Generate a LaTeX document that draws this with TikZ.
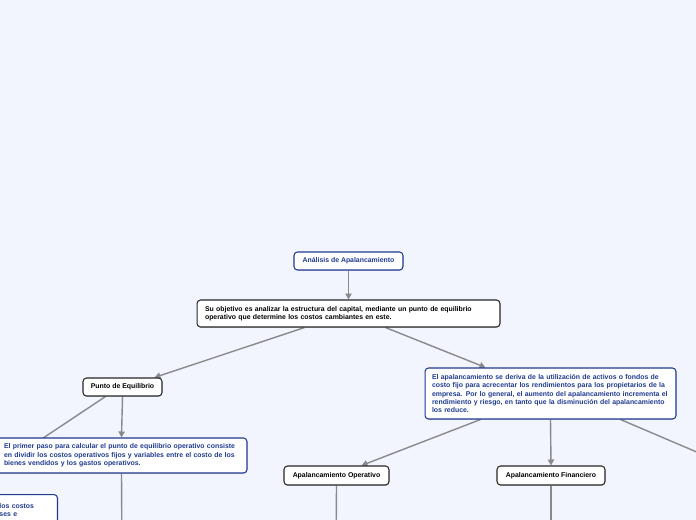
\documentclass[tikz,border=0pt]{standalone}
\usepackage{fontspec}
\setmainfont{Liberation Sans}
\usetikzlibrary{arrows.meta,backgrounds,calc,positioning,shadows}
\definecolor{paper}{HTML}{F2F5FE}
\definecolor{navy}{HTML}{1F3A8F}
\definecolor{wire}{HTML}{8A8A8A}
\tikzset{
  mapbox/.style={draw, fill=white, rounded corners=2pt, line width=0.6pt,
    inner sep=0pt, align=center,
    font=\fontsize{3.93}{4.8}\selectfont\bfseries,
    drop shadow={opacity=0.25, shadow xshift=0.2pt, shadow yshift=-0.5pt}},
  bluebox/.style={mapbox, draw=navy, text=navy},
  blackbox/.style={mapbox, draw=black!85, text=black},
  link/.style={draw=wire, line width=0.8pt, -{Triangle[length=3.4pt,width=3.6pt]}},
  plainlink/.style={draw=wire, line width=0.8pt},
}
\begin{document}
\begin{tikzpicture}[x=0.02cm, y=-0.02cm]
  \useasboundingbox (0,0) rectangle (696,520);
  \clip (0,0) rectangle (696,520);

  % map nodes
  \node[bluebox, minimum width=2.18cm, minimum height=0.36cm] (root) at (348.5,261) {Análisis de Apalancamiento};
  \node[blackbox, minimum width=6.06cm, minimum height=0.54cm, text width=5.74cm, align=left] (obj) at (348.5,313.5)
    {Su objetivo es analizar la estructura del capital, mediante un punto de equilibrio\\operativo que determine los costos cambiantes en este.};
  \node[blackbox, minimum width=1.58cm, minimum height=0.36cm] (punto) at (122.5,387) {Punto de Equilibrio};
  \node[bluebox, minimum width=5.02cm, minimum height=0.7cm, text width=4.7cm, align=left] (paso) at (121.5,455.5)
    {El primer paso para calcular el punto de equilibrio operativo consiste\\en dividir los costos operativos fijos y variables entre el costo de los\\bienes vendidos y los gastos operativos.};
  \node[bluebox, anchor=north east, text width=1.08cm, align=left, inner xsep=4pt*0.567, inner ysep=5pt, text depth=1.2cm] (costos) at (58,494)
    {los costos\\ses e};
  \node[bluebox, minimum width=5.02cm, minimum height=1.02cm, text width=4.74cm, align=left] (apal) at (550.5,393.5)
    {El apalancamiento se deriva de la utilización de activos o fondos de\\costo fijo para acrecentar los rendimientos para los propietarios de la\\empresa. Por lo general, el aumento del apalancamiento incrementa el\\rendimiento y riesgo, en tanto que la disminución del apalancamiento\\los reduce.};
  \node[blackbox, minimum width=2.1cm, minimum height=0.38cm] (oper) at (336.5,475.5) {Apalancamiento Operativo};
  \node[blackbox, minimum width=2.16cm, minimum height=0.38cm] (fin) at (551,475.5) {Apalancamiento Financiero};

  % branches leaving the visible area
  \coordinate (leftnext) at (-110,540);
  \coordinate (pasonext) at (122,560);
  \coordinate (opernext) at (336,560);
  \coordinate (finnext) at (551,560);
  \coordinate (rightnext) at (760,479);

  \begin{scope}[on background layer]
    \fill[paper] (0,0) rectangle (696,520);
    \draw[link] (root.south) -- (obj.north);
    \draw[link] ($(obj.south)+(-44,0)$) -- ($(punto.north)+(32,0)$);
    \draw[link] ($(obj.south)+(37,0)$) -- ($(apal.north)+(-65,0)$);
    \draw[plainlink] ($(punto.south)+(-17,0)$) -- (leftnext);
    \draw[link] (punto.south) -- (paso.north);
    \draw[plainlink] (paso.south) -- (pasonext);
    \draw[link] ($(apal.south)+(-70,0)$) -- ($(oper.north)+(25,0)$);
    \draw[link] (apal.south) -- (fin.north);
    \draw[plainlink] ($(apal.south)+(70,0)$) -- (rightnext);
    \draw[plainlink] (oper.south) -- (opernext);
    \draw[plainlink] (fin.south) -- (finnext);
  \end{scope}
\end{tikzpicture}
\end{document}
